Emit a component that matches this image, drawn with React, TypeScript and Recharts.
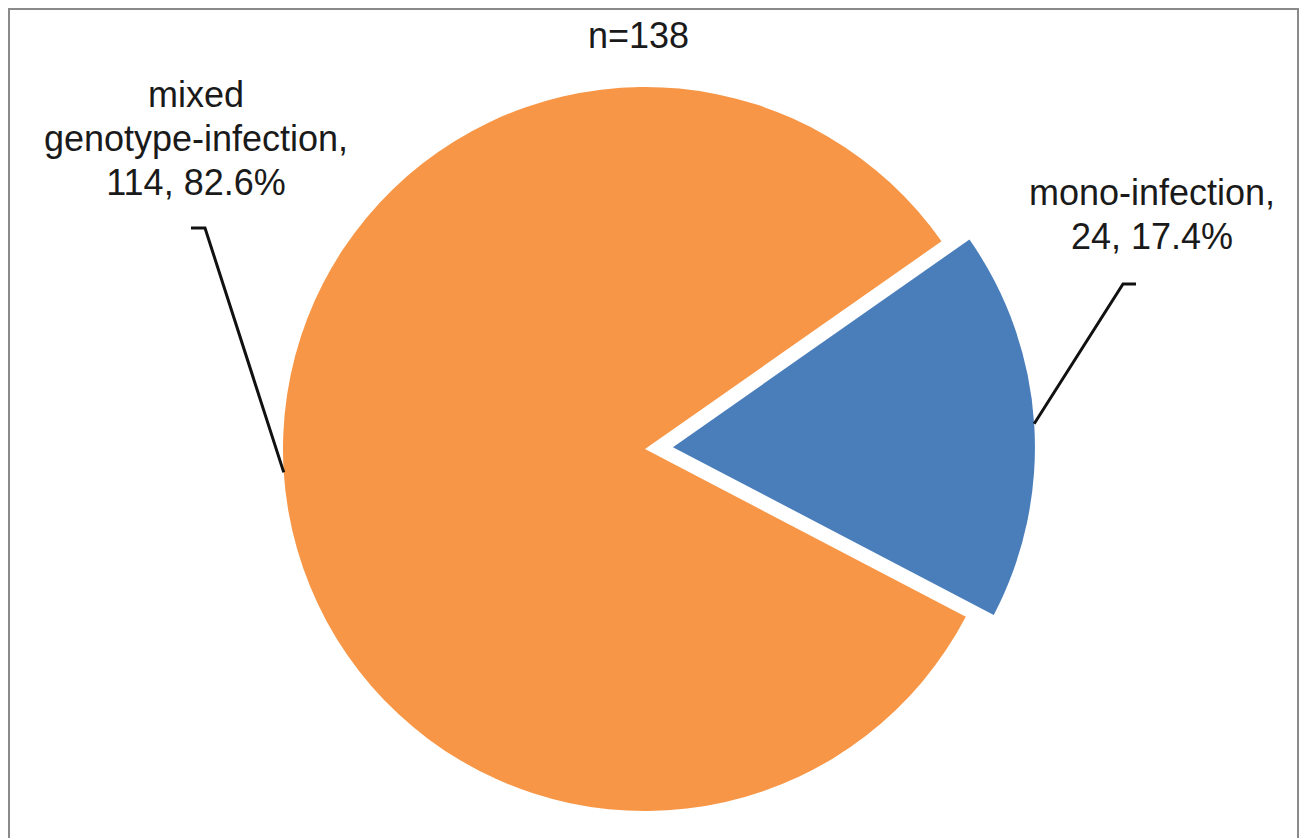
import { Cell, Pie, PieChart } from "recharts";

const CATEGORIES = ["mono-infection", "mixed genotype-infection"];
const COUNTS = [24, 114];
const COLORS = ["#4a7ebb", "#f79646"];
const LABEL_LINES = [["mono-infection,"], ["mixed", "genotype-infection,"]];

// layout only (svg coordinates)
const LABEL_LAYOUT = [
  { x: 1142, y: 195, bend: [1113, 274], end: [1126, 274] },
  { x: 186, y: 97, bend: [195, 218], end: [181, 218] },
];

const FONT = "'Liberation Sans', Arial, Helvetica, sans-serif";
const CX = 635;
const CY = 439;
const RADIUS = 362;
const START_ANGLE = -27.6;
const EXPLODE = 28;
const LINE_HEIGHT = 44;
const FONT_SIZE = 36;

const total = COUNTS.reduce((s, v) => s + v, 0);
const chartData = CATEGORIES.map((name, i) => ({ name, value: COUNTS[i] }));

const RAD = Math.PI / 180;
const monoMid = START_ANGLE + (180 * COUNTS[0]) / total;
const explodedCx = CX + EXPLODE * Math.cos(monoMid * RAD);
const explodedCy = CY - EXPLODE * Math.sin(monoMid * RAD);

const renderLabel = (visible: number) => (props: any) => {
  const { cx, cy, midAngle, outerRadius, index, value } = props;
  if (index !== visible) return <g />;
  const layout = LABEL_LAYOUT[index];
  const sx = cx + outerRadius * Math.cos(-midAngle * RAD);
  const sy = cy + outerRadius * Math.sin(-midAngle * RAD);
  const pct = ((value / total) * 100).toFixed(1);
  const lines = [...LABEL_LINES[index], `${value}, ${pct}%`];
  return (
    <g>
      <polyline
        points={`${sx},${sy} ${layout.bend[0]},${layout.bend[1]} ${layout.end[0]},${layout.end[1]}`}
        fill="none"
        stroke="#111"
        strokeWidth={3}
      />
      <text
        x={layout.x}
        y={layout.y}
        textAnchor="middle"
        fontFamily={FONT}
        fontSize={FONT_SIZE}
        fill="#1a1a1a"
      >
        {lines.map((line, i) => (
          <tspan key={i} x={layout.x} y={layout.y + i * LINE_HEIGHT}>
            {line}
          </tspan>
        ))}
      </text>
    </g>
  );
};

export default function App() {
  return (
    <div
      style={{
        width: 1291,
        height: 842,
        border: "2px solid #8a8a8a",
        boxSizing: "border-box",
        background: "#fff",
      }}
    >
      <PieChart width={1287} height={838} margin={{ top: 0, right: 0, bottom: 0, left: 0 }}>
        <text
          x={628.5}
          y={38}
          textAnchor="middle"
          fontFamily={FONT}
          fontSize={FONT_SIZE}
          fill="#1a1a1a"
        >
          {`n=${total}`}
        </text>
        <Pie
          data={chartData}
          dataKey="value"
          nameKey="name"
          cx={CX}
          cy={CY}
          outerRadius={RADIUS}
          startAngle={START_ANGLE}
          endAngle={START_ANGLE + 360}
          stroke="none"
          labelLine={false}
          label={renderLabel(1)}
          isAnimationActive={false}
        >
          {chartData.map((_, i) => (
            <Cell key={i} fill={i === 1 ? COLORS[i] : "transparent"} />
          ))}
        </Pie>
        <Pie
          data={chartData}
          dataKey="value"
          nameKey="name"
          cx={explodedCx}
          cy={explodedCy}
          outerRadius={RADIUS}
          startAngle={START_ANGLE}
          endAngle={START_ANGLE + 360}
          stroke="none"
          labelLine={false}
          label={renderLabel(0)}
          isAnimationActive={false}
        >
          {chartData.map((_, i) => (
            <Cell key={i} fill={i === 0 ? COLORS[i] : "transparent"} />
          ))}
        </Pie>
      </PieChart>
    </div>
  );
}
